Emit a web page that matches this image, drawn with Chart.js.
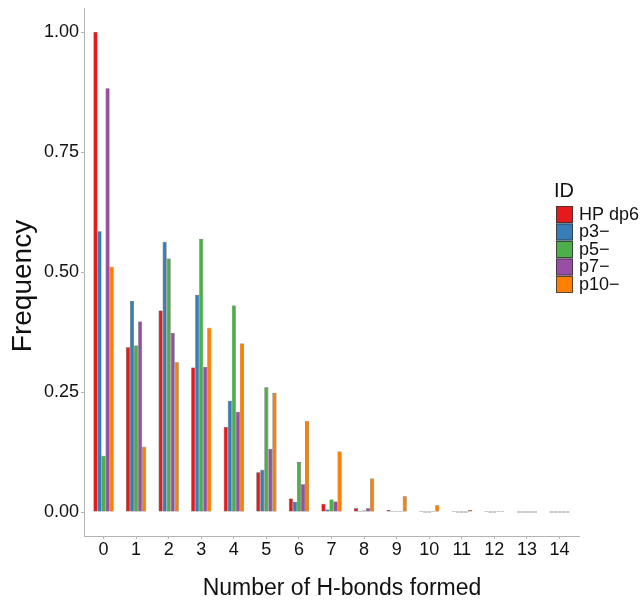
<!DOCTYPE html>
<html>
<head>
<meta charset="utf-8">
<script src="https://cdn.jsdelivr.net/npm/chart.js@4"></script>
<style>
  html, body { margin: 0; padding: 0; background: #fff; }
  #wrap { width: 641px; height: 602px; }
</style>
</head>
<body>
<div id="wrap"><canvas id="hbondChart" width="641" height="602"></canvas></div>
<script>
// Data
const categories = ['0', '1', '2', '3', '4', '5', '6', '7', '8', '9', '10', '11', '12', '13', '14'];
const seriesNames = ['HP dp6', 'p3\u2212', 'p5\u2212', 'p7\u2212', 'p10\u2212'];
const seriesColors = ['#E41A1C', '#377EB8', '#4DAF4A', '#984EA3', '#FF7F00'];
const hpDp6 = [1.000, 0.343, 0.420, 0.301, 0.177, 0.083, 0.028, 0.017, 0.008, 0.004, 0.002, 0.001, 0.001, 0, 0];
const p3 = [0.585, 0.440, 0.563, 0.452, 0.232, 0.088, 0.021, 0.005, 0.001, 0.001, 0, 0, 0, 0, 0];
const p5 = [0.117, 0.347, 0.528, 0.569, 0.430, 0.260, 0.104, 0.026, 0.003, 0.001, 0, 0, 0, 0, 0];
const p7 = [0.883, 0.397, 0.373, 0.302, 0.209, 0.132, 0.058, 0.022, 0.008, 0.002, 0.001, 0, 0.001, 0, 0];
const p10 = [0.511, 0.136, 0.312, 0.384, 0.351, 0.248, 0.189, 0.126, 0.070, 0.033, 0.014, 0.004, 0.001, 0, 0];
const yTicks = [0, 0.25, 0.5, 0.75, 1.0];

const allSeries = [hpDp6, p3, p5, p7, p10];
const FONT = '"Liberation Sans", Arial, sans-serif';
const AXIS_GREY = '#b3b3b3';

// axis titles and ggplot-style legend
const decorPlugin = {
    id: 'ggDecor',
    afterDraw(chart) {
        const ctx = chart.ctx;
        ctx.save();
        ctx.fillStyle = '#111';
        ctx.textAlign = 'center';
        ctx.textBaseline = 'middle';

        ctx.font = '23px ' + FONT;
        ctx.fillText('Number of H-bonds formed', 342, 589);

        ctx.save();
        ctx.translate(23, 286);
        ctx.rotate(-Math.PI / 2);
        ctx.font = '28px ' + FONT;
        ctx.fillText('Frequency', 0, 0);
        ctx.restore();

        ctx.textAlign = 'left';
        ctx.textBaseline = 'alphabetic';
        ctx.font = '20px ' + FONT;
        ctx.fillText('ID', 554, 197);
        chart.data.datasets.forEach((ds, i) => {
            const y = 206 + i * 17.5;
            ctx.fillStyle = ds.backgroundColor;
            ctx.fillRect(556, y, 17, 17);
            ctx.strokeStyle = '#333';
            ctx.lineWidth = 0.8;
            ctx.strokeRect(556.5, y + 0.5, 16, 16);
            ctx.fillStyle = '#111';
            ctx.font = '18px ' + FONT;
            ctx.textBaseline = 'middle';
            ctx.fillText(ds.label, 579, y + 9);
        });
        ctx.restore();
    }
};

const ctx = document.getElementById('hbondChart').getContext('2d');
new Chart(ctx, {
    type: 'bar',
    data: {
        datasets: seriesNames.map((name, i) => ({
            label: name,
            data: allSeries[i].map((v, k) => ({ x: k, y: v })),
            backgroundColor: seriesColors[i],
            borderColor: '#333',
            borderWidth: 0.5,
            borderSkipped: false,
            minBarLength: 1,
            categoryPercentage: 0.62,
            barPercentage: 1.0
        }))
    },
    options: {
        responsive: false,
        animation: false,
        layout: { padding: { top: 8, right: 62, left: 0, bottom: 0 } },
        plugins: {
            legend: { display: false },
            tooltip: { enabled: false }
        },
        scales: {
            x: {
                type: 'linear',
                offset: false,
                min: -0.6,
                max: 14.6,
                afterBuildTicks: scale => {
                    scale.ticks = categories.map((c, i) => ({ value: i }));
                },
                afterFit: scale => {
                    scale.height = 66;
                    scale.paddingLeft = 0;
                    scale.paddingRight = 0;
                },
                ticks: {
                    autoSkip: false,
                    maxRotation: 0,
                    padding: 0,
                    color: '#111',
                    font: { family: FONT, size: 18 },
                    callback: value => categories[value]
                },
                grid: {
                    display: true,
                    offset: false,
                    drawOnChartArea: false,
                    drawTicks: true,
                    tickLength: 3,
                    color: AXIS_GREY
                },
                border: { display: true, color: AXIS_GREY, width: 1 }
            },
            y: {
                min: -0.05,
                max: 1.05,
                afterBuildTicks: scale => {
                    scale.ticks = yTicks.map(v => ({ value: v }));
                },
                afterFit: scale => {
                    scale.width = 84;
                    scale.paddingTop = 0;
                    scale.paddingBottom = 0;
                },
                ticks: {
                    padding: 2,
                    color: '#111',
                    font: { family: FONT, size: 18 },
                    callback: value => value.toFixed(2)
                },
                grid: {
                    display: true,
                    drawOnChartArea: false,
                    drawTicks: true,
                    tickLength: 3,
                    color: AXIS_GREY
                },
                border: { display: true, color: AXIS_GREY, width: 1 }
            }
        }
    },
    plugins: [decorPlugin]
});
</script>
</body>
</html>
